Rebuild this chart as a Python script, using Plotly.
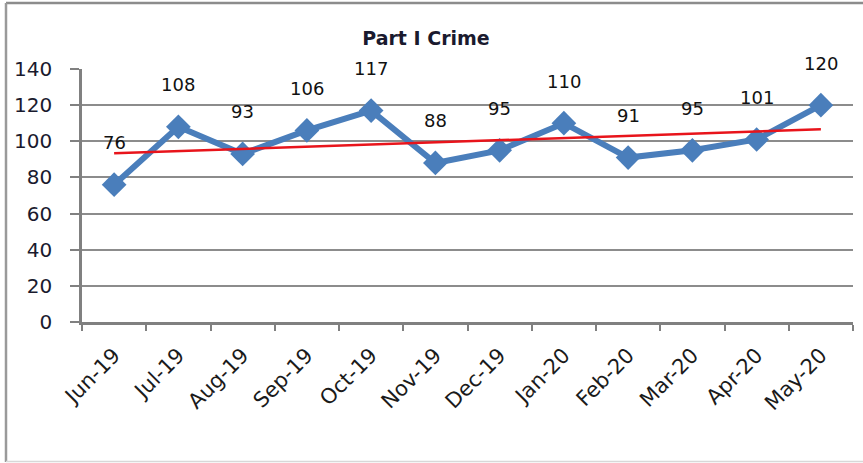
import numpy as np
import plotly.graph_objects as go

months = ["Jun-19", "Jul-19", "Aug-19", "Sep-19", "Oct-19", "Nov-19",
          "Dec-19", "Jan-20", "Feb-20", "Mar-20", "Apr-20", "May-20"]
crimes = [76, 108, 93, 106, 117, 88, 95, 110, 91, 95, 101, 120]
y_ticks = [0, 20, 40, 60, 80, 100, 120, 140]

idx = np.arange(len(crimes))
slope, intercept = np.polyfit(idx, crimes, 1)
trend = slope * idx + intercept

W, H = 863, 463
L, R, T, B = 82, 853, 69, 322
FONT = "DejaVu Sans"

fig = go.Figure()
fig.add_trace(go.Scatter(
    x=months, y=crimes, mode="lines+markers",
    line=dict(color="#4A7EBB", width=6),
    marker=dict(symbol="diamond", size=19, color="#4A7EBB"),
    showlegend=False, hoverinfo="skip"))
fig.add_trace(go.Scatter(
    x=[months[0], months[-1]], y=[trend[0], trend[-1]], mode="lines",
    line=dict(color="#E8141B", width=2.5),
    showlegend=False, hoverinfo="skip"))

for m, v in zip(months, crimes):
    fig.add_annotation(x=m, y=v, text=str(v), showarrow=False, yshift=42,
                       font=dict(family=FONT, size=18, color="#111111"))

def px(x):
    return (x - L) / (R - L)

def py(y):
    return (B - y) / (B - T)

fig.add_shape(type="line", xref="paper", yref="paper",
              x0=px(6), x1=px(870), y0=py(3), y1=py(3),
              line=dict(color="#8C8C8C", width=2.5))
fig.add_shape(type="line", xref="paper", yref="paper",
              x0=px(6), x1=px(6), y0=py(3), y1=py(462),
              line=dict(color="#9A9A9A", width=2.5))
fig.add_shape(type="line", xref="paper", yref="paper",
              x0=px(6), x1=px(870), y0=py(461.5), y1=py(461.5),
              line=dict(color="#D8D8D8", width=1.5))

fig.update_layout(
    width=W, height=H,
    margin=dict(l=L, r=W - R, t=T, b=H - B),
    paper_bgcolor="white", plot_bgcolor="white",
    title=dict(text="<b>Part I Crime</b>", x=426 / W, xanchor="center",
               y=1 - 38 / H, yanchor="middle",
               font=dict(family=FONT, size=19, color="#1A1A2E")),
    xaxis=dict(tickangle=-45, tickson="boundaries", ticks="outside",
               ticklen=6, tickcolor="#808080", tickwidth=2,
               ticklabelstandoff=10,
               showline=True, linecolor="#808080", linewidth=2.5,
               showgrid=False, range=[-0.5, 11.5], automargin=False,
               tickfont=dict(family=FONT, size=21, color="#1A1A1A")),
    yaxis=dict(range=[0, 140], tickvals=y_ticks, ticks="outside",
               ticklen=9, tickcolor="#808080", tickwidth=2,
               ticklabelstandoff=14,
               showline=True, linecolor="#808080", linewidth=2.5,
               showgrid=True, gridcolor="#8C8C8C", gridwidth=1.8,
               zeroline=False, automargin=False,
               tickfont=dict(family=FONT, size=20, color="#1A1A2E")),
)

fig.write_html("out.html", config={"displayModeBar": False},
               post_script="document.body.style.margin='0';"
                           "document.body.style.padding='0';")
